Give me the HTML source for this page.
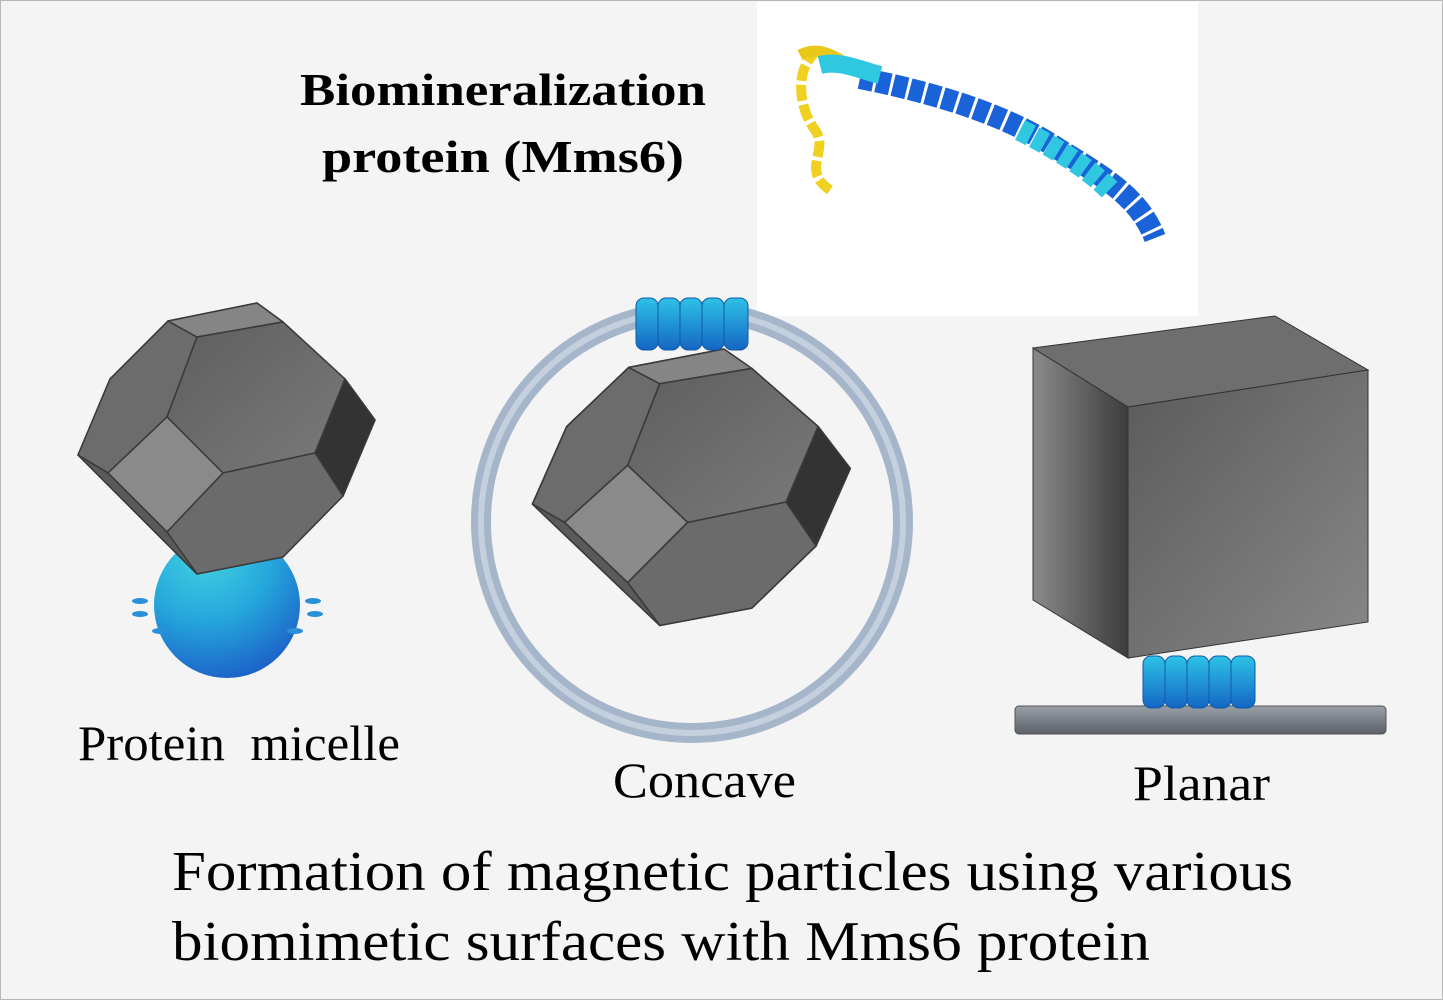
<!DOCTYPE html>
<html><head><meta charset="utf-8"><style>
html,body{margin:0;padding:0;background:#f4f4f4}
svg{display:block}
text{font-family:"Liberation Serif",serif;fill:#000}
</style></head><body>
<svg width="1443" height="1000" viewBox="0 0 1443 1000" xmlns="http://www.w3.org/2000/svg">
<defs>
<radialGradient id="sph" cx="0.35" cy="0.15" r="0.9">
<stop offset="0" stop-color="#f4e36a"/><stop offset="0.12" stop-color="#3cc8e0"/><stop offset="0.5" stop-color="#25a8dc"/><stop offset="1" stop-color="#1c5fc8"/></radialGradient>
<linearGradient id="face" x1="0" y1="0" x2="1" y2="1"><stop offset="0" stop-color="#5e5e5e"/><stop offset="1" stop-color="#7a7a7a"/></linearGradient>
<linearGradient id="cyl" x1="0" y1="0" x2="0" y2="1"><stop offset="0" stop-color="#2ec2e6"/><stop offset="1" stop-color="#1466c4"/></linearGradient>
<linearGradient id="bar" x1="0" y1="0" x2="0" y2="1"><stop offset="0" stop-color="#9aa0a8"/><stop offset="1" stop-color="#5c6068"/></linearGradient>
<linearGradient id="cubel" x1="0" y1="0" x2="1" y2="0"><stop offset="0" stop-color="#8a8a8a"/><stop offset="1" stop-color="#3c3c3c"/></linearGradient>
<linearGradient id="cubef" x1="0" y1="0" x2="1" y2="1"><stop offset="0" stop-color="#5a5a5a"/><stop offset="1" stop-color="#888"/></linearGradient>
<g id="poly" stroke="#3a3a3a" stroke-width="1.5" stroke-linejoin="round">
<polygon points="168,321 257,303 283,322 345,379 375,420 343,496 283,557 197,574 78,455 110,379" fill="#666"/>
<polygon points="110,379 168,321 197,337 167,417 108,473 78,455" fill="#6c6c6c"/>
<polygon points="168,321 257,303 283,322 197,337" fill="#858585"/>
<polygon points="197,337 283,322 345,379 315,453 223,473 167,417" fill="url(#face)"/>
<polygon points="345,379 375,420 343,496 315,453" fill="#333"/>
<polygon points="167,417 223,473 167,532 108,473" fill="#8a8a8a"/>
<polygon points="223,473 315,453 343,496 283,557 197,574 167,532" fill="#6b6b6b"/>
<polygon points="78,455 108,473 167,532 197,574" fill="#5a5a5a"/>
</g>
<g id="cyls">
<rect x="0" y="6" width="22" height="52" rx="8" fill="url(#cyl)" stroke="#0f5aa8" stroke-width="1"/>
<rect x="22" y="6" width="22" height="52" rx="8" fill="url(#cyl)" stroke="#0f5aa8" stroke-width="1"/>
<rect x="44" y="6" width="22" height="52" rx="8" fill="url(#cyl)" stroke="#0f5aa8" stroke-width="1"/>
<rect x="66" y="6" width="22" height="52" rx="8" fill="url(#cyl)" stroke="#0f5aa8" stroke-width="1"/>
<rect x="88" y="6" width="24" height="52" rx="8" fill="url(#cyl)" stroke="#0f5aa8" stroke-width="1"/>
</g>
</defs>
<rect x="0.5" y="0.5" width="1442" height="999" fill="#f4f4f4" stroke="#b8b8b8"/>
<rect x="757" y="2" width="441" height="314" fill="#fff"/>
<!-- protein -->
<path d="M818,50 C792,70 800,110 815,130 C830,150 800,170 830,190" stroke="#f0d020" stroke-width="10" fill="none" stroke-dasharray="16 4"/>
<path d="M800,55 C825,42 845,65 870,78" stroke="#e8c818" stroke-width="11" fill="none"/>
<path d="M860,78 C920,90 1000,110 1060,150 C1110,180 1140,200 1155,238" stroke="#1a62d8" stroke-width="22" fill="none" stroke-dasharray="14 3"/>
<path d="M820,65 C840,60 860,70 880,75" stroke="#30c8e0" stroke-width="18" fill="none"/>
<path d="M1020,130 C1060,150 1090,170 1110,190" stroke="#30c8e0" stroke-width="22" fill="none" stroke-dasharray="12 4"/>
<text x="300" y="105" font-size="46" font-weight="bold" textLength="406" lengthAdjust="spacingAndGlyphs">Biomineralization</text>
<text x="322" y="172" font-size="46" font-weight="bold" textLength="362" lengthAdjust="spacingAndGlyphs">protein (Mms6)</text>
<!-- left -->
<circle cx="227" cy="605" r="73" fill="url(#sph)"/>
<g fill="#2a90d8"><ellipse cx="140" cy="601" rx="8" ry="3"/><ellipse cx="140" cy="614" rx="8" ry="3"/><ellipse cx="160" cy="631" rx="8" ry="3"/><ellipse cx="313" cy="601" rx="8" ry="3"/><ellipse cx="315" cy="614" rx="8" ry="3"/><ellipse cx="295" cy="631" rx="8" ry="3"/></g>
<use href="#poly"/>
<!-- middle -->
<circle cx="692" cy="522" r="211" fill="none" stroke="#a6b6ca" stroke-width="20"/>
<circle cx="692" cy="522" r="211" fill="none" stroke="#c4d0de" stroke-width="6"/>
<use href="#poly" transform="translate(449,40) scale(1.07,1.02)"/>
<use href="#cyls" transform="translate(636,292)"/>
<!-- right -->
<rect x="1015" y="706" width="371" height="28" rx="4" fill="url(#bar)" stroke="#555"/>
<use href="#cyls" transform="translate(1143,650)"/>
<g stroke="#333" stroke-width="1">
<polygon points="1033,348 1128,407 1128,658 1033,600" fill="url(#cubel)"/>
<polygon points="1033,348 1275,316 1368,370 1128,407" fill="#6e6e6e"/>
<polygon points="1128,407 1368,370 1368,622 1128,658" fill="url(#cubef)"/>
</g>
<text x="78" y="760" font-size="50" textLength="322" lengthAdjust="spacingAndGlyphs">Protein&#160; micelle</text>
<text x="613" y="797" font-size="50" textLength="183" lengthAdjust="spacingAndGlyphs">Concave</text>
<text x="1133" y="800" font-size="50" textLength="137" lengthAdjust="spacingAndGlyphs">Planar</text>
<text x="172" y="890" font-size="56" textLength="1121" lengthAdjust="spacingAndGlyphs">Formation of magnetic particles using various</text>
<text x="172" y="960" font-size="56" textLength="978" lengthAdjust="spacingAndGlyphs">biomimetic surfaces with Mms6 protein</text>
</svg>
</body></html>
